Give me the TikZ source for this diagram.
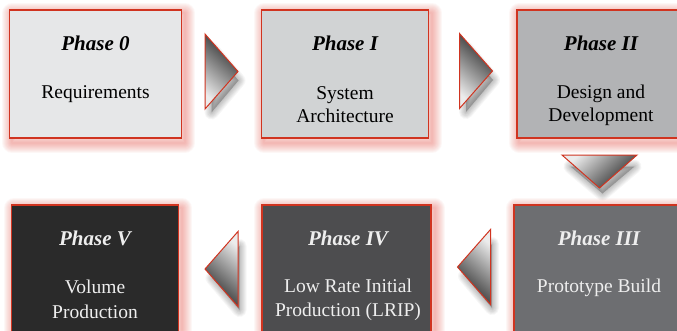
\documentclass[tikz,border=0pt]{standalone}
\usepackage{fontspec}
\setmainfont{Liberation Serif}
\newfontfamily\tmsfont{Liberation Serif}
\usetikzlibrary{calc}
\definecolor{bred}{RGB}{208,52,32}
\definecolor{glowc}{RGB}{228,70,60}
\definecolor{c0}{HTML}{E6E7E8}
\definecolor{c1}{HTML}{D1D3D4}
\definecolor{c2}{HTML}{B2B3B5}
\definecolor{c3}{HTML}{6D6E71}
\definecolor{c4}{HTML}{4D4D4F}
\definecolor{c5}{HTML}{2A2A2A}
\definecolor{ltxt}{HTML}{EEEEEE}
\pgfdeclarelayer{bg}
\pgfsetlayers{bg,main}
\tikzset{
  box/.style={draw=bred, line width=1.1pt, minimum height=128pt, inner sep=0pt},
  ttl/.style={anchor=base, inner sep=0pt, font=\tmsfont\fontsize{21}{25}\selectfont\bfseries\itshape},
  txt/.style={anchor=base, inner sep=0pt, font=\tmsfont\fontsize{19.5}{23}\selectfont},
  tri/.style={draw=bred, line width=1pt, line join=miter},
  trishadow/.style={black, opacity=0.035, line join=round},
}
\begin{document}
\begin{tikzpicture}[x=1pt,y=-1pt]
\useasboundingbox (0,0) rectangle (677,330);
\clip (0,0) rectangle (677,330);

% boxes
\node[box, fill=c0, minimum width=172pt] (b0) at (95.5,74) {};
\node[box, fill=c1, minimum width=167pt] (b1) at (345,74) {};
\node[box, fill=c2, minimum width=168pt] (b2) at (601,74) {};
\node[box, fill=c3, minimum width=170pt] (b3) at (599,269) {};
\node[box, fill=c4, minimum width=169pt] (b4) at (346.5,269) {};
\node[box, fill=c5, minimum width=167pt] (b5) at (95,269) {};

\begin{pgfonlayer}{bg}
\fill[white] (0,0) rectangle (677,330);
\foreach \b in {b0,b1,b2,b3,b4,b5}{
  \foreach \i in {1,...,10}{
    \draw[glowc, opacity=0.045, line width=2*\i pt, line join=round]
      ([xshift=3pt,yshift=-4pt]\b.north west) rectangle ([xshift=3pt,yshift=-4pt]\b.south east);
  }
}
\end{pgfonlayer}

% texts, top row
\node[ttl] (h0) at (95.5,50) {Phase 0};
\node[txt] (t0) at (95.5,98) {Requirements};
\node[ttl] (h1) at (345,50) {Phase I};
\node[txt] (t1a) at (345,99) {System};
\node[txt] (t1b) at (345,122) {Architecture};
\node[ttl] (h2) at (601,50) {Phase II};
\node[txt] (t2a) at (601,98) {Design and};
\node[txt] (t2b) at (601,121) {Development};

% texts, bottom row
\node[ttl, text=ltxt] (h3) at (599,245) {Phase III};
\node[txt, text=ltxt] (t3) at (599,292) {Prototype Build};
\node[ttl, text=ltxt] (h4) at (348,245) {Phase IV};
\node[txt, text=ltxt] (t4a) at (348,292) {Low Rate Initial};
\node[txt, text=ltxt] (t4b) at (348,316) {Production (LRIP)};
\node[ttl, text=ltxt] (h5) at (95,245) {Phase V};
\node[txt, text=ltxt] (t5a) at (95,293) {Volume};
\node[txt, text=ltxt] (t5b) at (95,318) {Production};

% arrow centres
\coordinate (a01) at (221.5,71.5);
\coordinate (a12) at (476,71);
\coordinate (a23) at (599.5,171.5);
\coordinate (a34) at (474,267);
\coordinate (a45) at (221.5,269);

% right-pointing triangles
\foreach \c in {a01,a12}{
  \begin{scope}[shift={(\c)}]
    \foreach \i in {1,...,7}{
      \filldraw[trishadow, line width=2*\i pt, shift={(4,9)}] (-14,-32) -- (13,0) -- (-14,32) -- cycle;
    }
    \draw[tri, top color=black!85, bottom color=gray!15, shading angle=-42] (-16.5,-37.5) -- (16.5,0) -- (-16.5,37.5) -- cycle;
  \end{scope}
}
% left-pointing triangles
\foreach \c in {a34,a45}{
  \begin{scope}[shift={(\c)}]
    \foreach \i in {1,...,7}{
      \filldraw[trishadow, line width=2*\i pt, shift={(4,9)}] (14,-32) -- (-13,0) -- (14,32) -- cycle;
    }
    \draw[tri, top color=black!85, bottom color=gray!15, shading angle=138] (16.5,-37.5) -- (-16.5,0) -- (16.5,37.5) -- cycle;
  \end{scope}
}
% down-pointing triangle
\begin{scope}[shift={(a23)}]
  \foreach \i in {1,...,7}{
    \filldraw[trishadow, line width=2*\i pt, shift={(3,9)}] (-32,-14) -- (32,-14) -- (0,13) -- cycle;
  }
  \draw[tri, bottom color=black!85, top color=gray!15, shading angle=42] (-37.5,-16.5) -- (37.5,-16.5) -- (0,16.5) -- cycle;
\end{scope}
\end{tikzpicture}
\end{document}
